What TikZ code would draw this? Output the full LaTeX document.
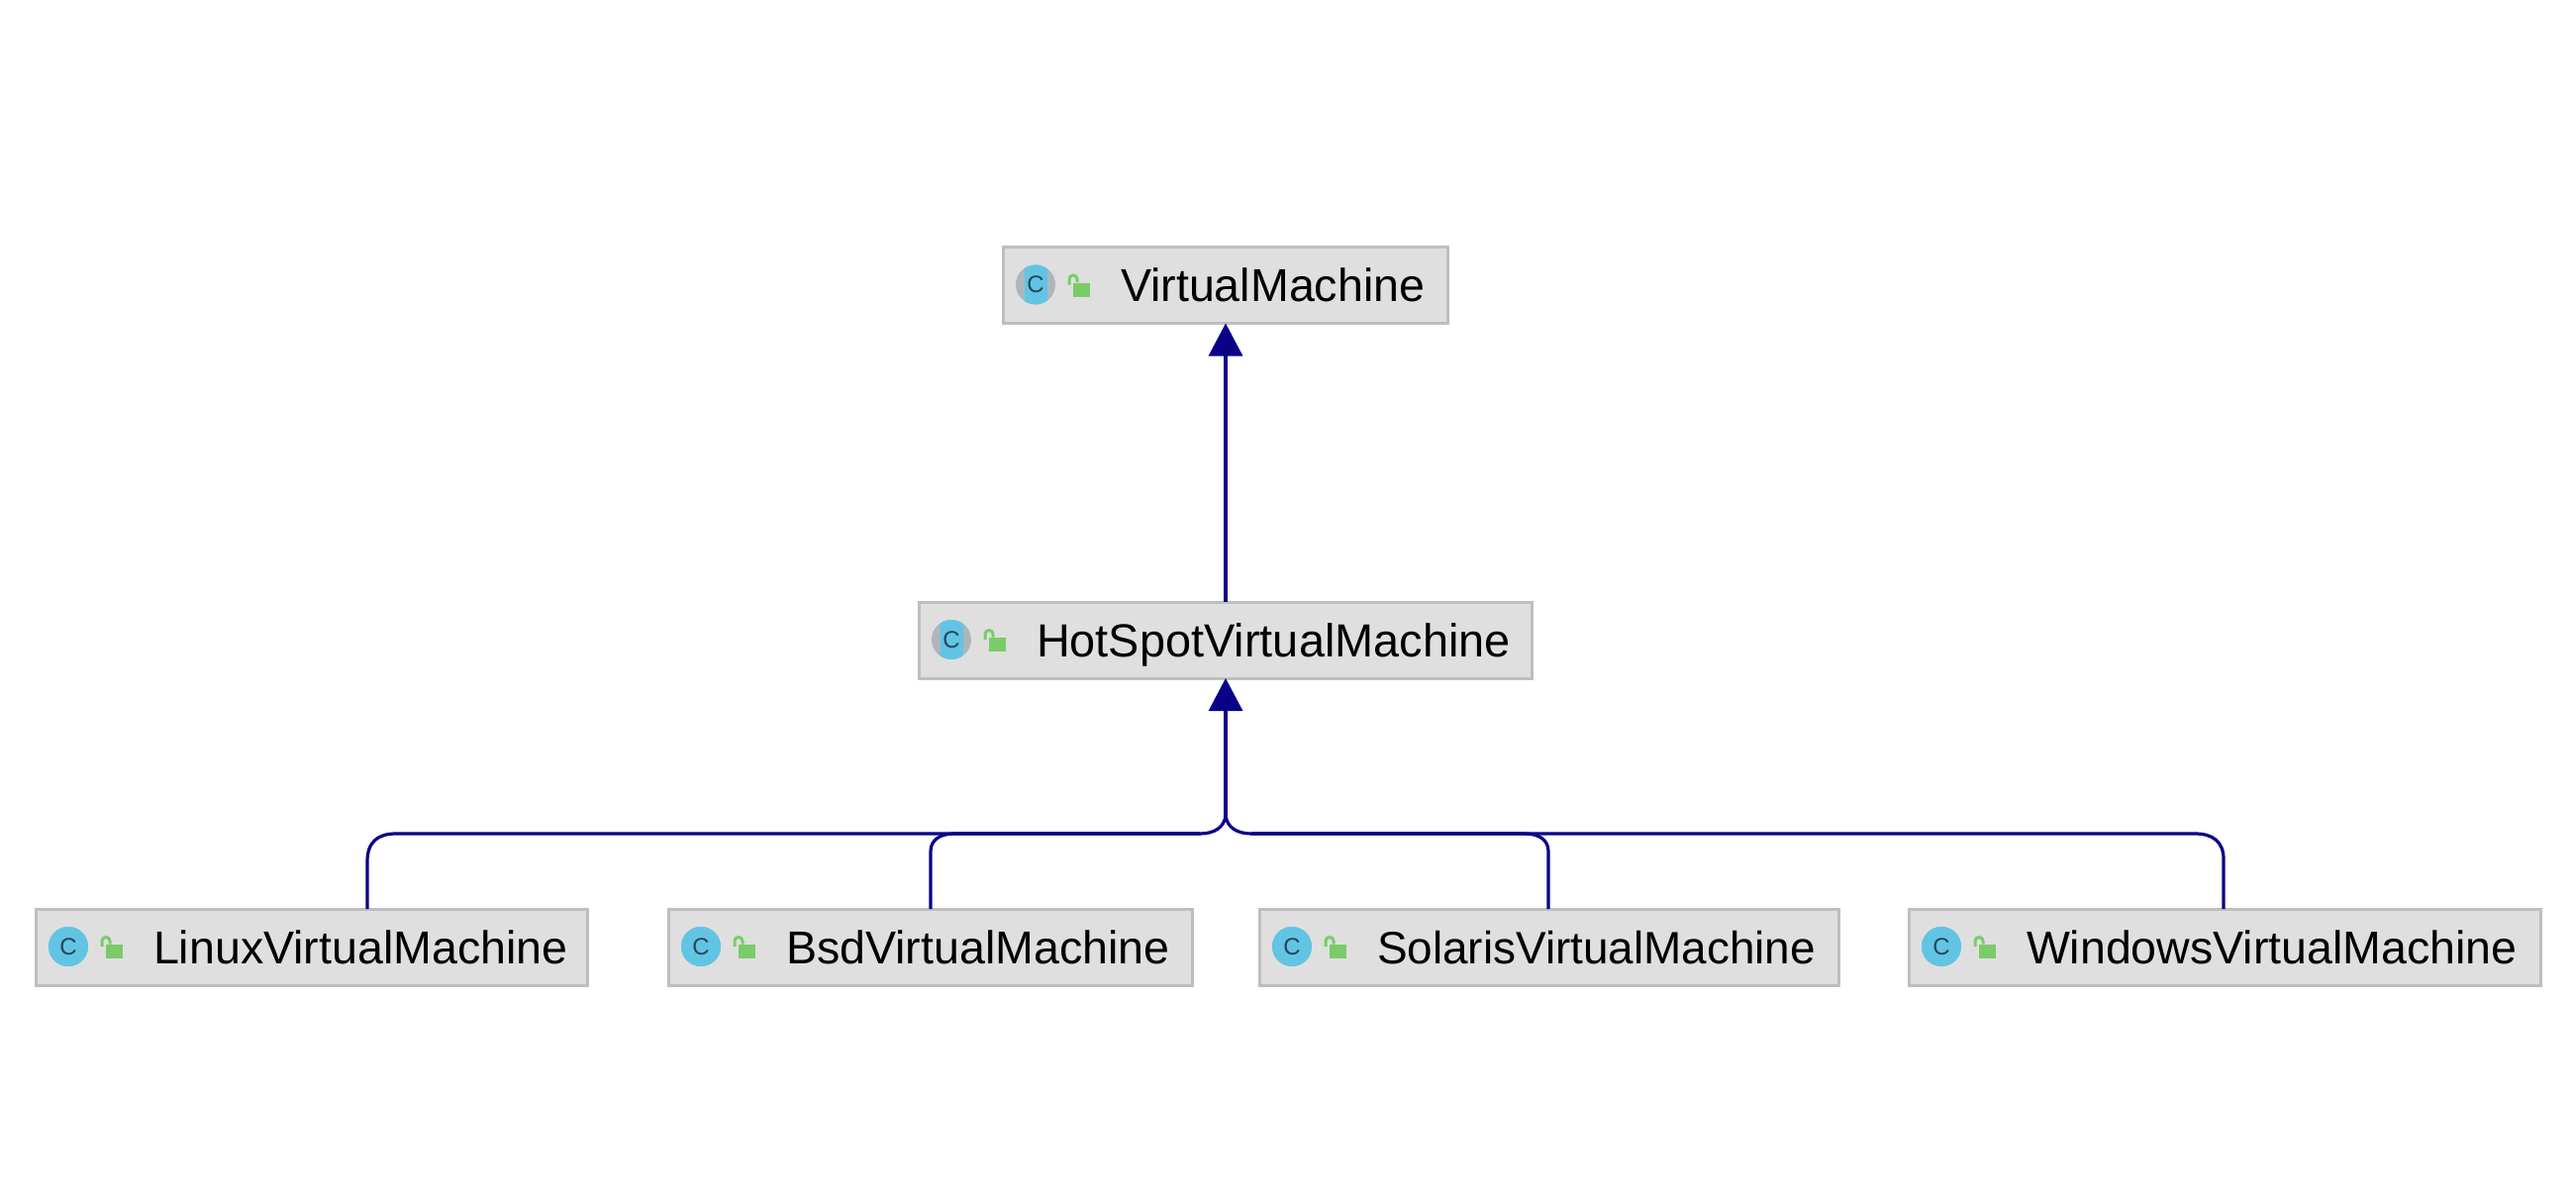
\documentclass[tikz,border=0pt]{standalone}
\usepackage{fontspec}
\setmainfont{Liberation Sans}
\usetikzlibrary{arrows.meta,calc}
\definecolor{boxfill}{HTML}{DFDFDF}
\definecolor{boxline}{HTML}{BEBEBE}
\definecolor{conncol}{HTML}{0A0087}
\definecolor{iconblue}{HTML}{62C4E3}
\definecolor{icongrey}{HTML}{ADB6BC}
\definecolor{iconink}{HTML}{26465A}
\definecolor{lockgreen}{HTML}{79CC68}
\tikzset{
  x=1pt,y=-1pt,
  classbox/.style={draw=boxline,fill=boxfill,line width=3pt,outer sep=0pt,inner sep=0pt,minimum height=77pt,anchor=north west},
  classname/.style={anchor=base west,inner sep=0pt,outer sep=0pt,text=black},
  iconconcrete/.style={circle,fill=iconblue,minimum size=40pt,inner sep=0pt},
  iconabstract/.style={circle,fill=icongrey,minimum size=40pt,inner sep=0pt},
  iconletter/.style={inner sep=0pt,text=iconink,font=\fontsize{24}{24}\selectfont},
  lockbody/.style={fill=lockgreen,minimum width=17pt,minimum height=14pt,inner sep=0pt,outer sep=0pt},
  lockring/.style={draw=lockgreen,line width=3pt},
  conn/.style={draw=conncol,line width=3.2pt},
  inherit/.style={conn,-{Triangle[width=34pt,length=33pt,sep=0pt]}},
}
% name, left, top, width, text, icon style, font size, half width of the blue band
\newcommand{\classnode}[8]{%
  \node[classbox,minimum width=#4pt] (#1) at (#2,#3) {};
  \node[classname,font=\fontsize{#7}{50}\selectfont] (#1-name) at ($(#2,#3)+(118.5,55)$) {#5};
  \node[#6] (#1-icon) at ($(#2,#3)+(32.5,38)$) {};
  \begin{scope}
    \clip (#1-icon.center) circle[radius=20pt];
    \fill[iconblue] ($(#1-icon.center)+(-#8,-25)$) rectangle ($(#1-icon.center)+(#8,25)$);
  \end{scope}
  \node[iconletter] (#1-letter) at (#1-icon.center) {C};
  \node[lockbody] (#1-lock) at ($(#2,#3)+(78.5,43)$) {};
  \draw[lockring] ($(#1-lock.north west)+(-3.5,2)$) -- ++(0,-5.5) arc[start angle=180,end angle=0,radius=4pt] -- ++(0,3);
}
\begin{document}
\begin{tikzpicture}
\useasboundingbox (0,0) rectangle (2602,1210);
\classnode{vm}{1013.5}{249.5}{449}{VirtualMachine}{iconabstract}{46.6}{11.5}
\classnode{hs}{928.5}{608}{619}{HotSpotVirtualMachine}{iconabstract}{46.9}{11.5}
\classnode{linux}{36.5}{918}{557}{LinuxVirtualMachine}{iconconcrete}{46.6}{25}
\classnode{bsd}{675.5}{918}{529}{BsdVirtualMachine}{iconconcrete}{46.6}{25}
\classnode{solaris}{1272.5}{918}{585}{SolarisVirtualMachine}{iconconcrete}{45.9}{25}
\classnode{windows}{1928.5}{918}{638}{WindowsVirtualMachine}{iconconcrete}{46.5}{25}

\coordinate (junction) at (1238,823);
\coordinate (busleft) at (1212,842);
\coordinate (busright) at (1264,842);

\draw[inherit] (hs.north) -- (vm.south);
\draw[inherit] (junction) -- (hs.south);

\draw[conn] ([xshift=56pt]linux.north) -- (371,870) .. controls (371,850) and (382,842) .. (400,842) -- (busleft) .. controls (1226,842) and (1237,836) .. (junction);
\draw[conn] (bsd.north) -- (940,860) .. controls (940,848) and (950,842) .. (964,842) -- (busleft);
\draw[conn] ([xshift=-1pt]solaris.north) -- (1564,860) .. controls (1564,848) and (1554,842) .. (1540,842) -- (busright) .. controls (1250,842) and (1239,836) .. (junction);
\draw[conn] ([xshift=-1.5pt]windows.north) -- (2246,868) .. controls (2246,850) and (2235,842) .. (2217,842) -- (busright);
\end{tikzpicture}
\end{document}
